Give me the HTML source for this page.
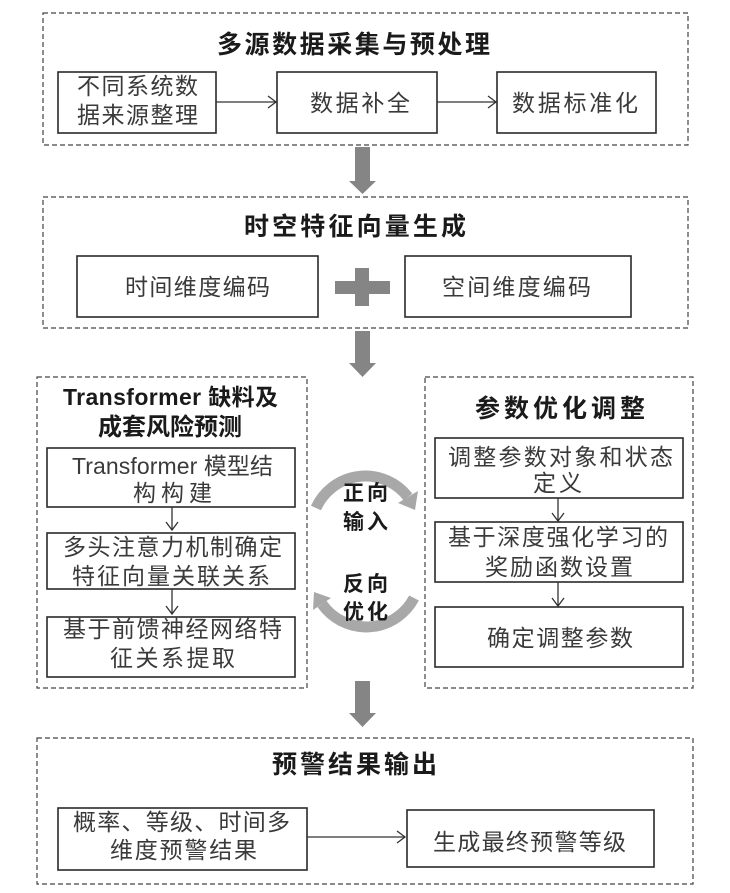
<!DOCTYPE html>
<html>
<head>
<meta charset="utf-8">
<style>
  html,body{margin:0;padding:0;background:#fff;}
  svg{display:block;}
  .t{font-family:"Liberation Sans","Noto Sans CJK SC",sans-serif;font-weight:bold;font-size:25px;fill:#1a1a1a;}
  .s{font-family:"Liberation Sans","Noto Sans CJK SC",sans-serif;font-weight:normal;font-size:23px;fill:#3a3a3a;}
  .m{font-family:"Liberation Sans","Noto Sans CJK SC",sans-serif;font-weight:bold;font-size:21px;fill:#1a1a1a;}
  .dash{fill:none;stroke:#444;stroke-width:1.2;stroke-dasharray:5 3;}
  .box{fill:#fff;stroke:#2a2a2a;stroke-width:1.6;}
  .ln{fill:none;stroke:#333;stroke-width:1.3;}
  .big{fill:#858585;}
  .arc{fill:none;stroke:#a8a8a8;stroke-width:11;}
  .arch{fill:#a8a8a8;}
</style>
</head>
<body>
<svg width="730" height="893" viewBox="0 0 730 893" xmlns="http://www.w3.org/2000/svg">
  <!-- Box 1 -->
  <rect class="dash" x="43" y="13" width="645" height="132"/>
  <text class="t" x="217" y="53" textLength="273" lengthAdjust="spacing">多源数据采集与预处理</text>

  <rect class="box" x="58" y="72" width="158" height="61"/>
  <text class="s" x="77" y="94" textLength="121" lengthAdjust="spacing">不同系统数</text>
  <text class="s" x="77" y="123" textLength="121" lengthAdjust="spacing">据来源整理</text>

  <line class="ln" x1="216" y1="102" x2="276" y2="102"/>
  <polyline class="ln" points="268,96 276,102 268,108"/>

  <rect class="box" x="277" y="72" width="160" height="61"/>
  <text class="s" x="310" y="111" textLength="100" lengthAdjust="spacing">数据补全</text>

  <line class="ln" x1="437" y1="102" x2="496" y2="102"/>
  <polyline class="ln" points="488,96 496,102 488,108"/>

  <rect class="box" x="497" y="72" width="159" height="61"/>
  <text class="s" x="512" y="111" textLength="126" lengthAdjust="spacing">数据标准化</text>

  <!-- Down arrow 1 -->
  <polygon class="big" points="355,147 370,147 370,181 376,181 362.5,194 349,181 355,181"/>

  <!-- Box 2 -->
  <rect class="dash" x="43" y="197" width="645" height="131"/>
  <text class="t" x="244" y="235" textLength="222" lengthAdjust="spacing">时空特征向量生成</text>

  <rect class="box" x="77" y="256" width="241" height="61"/>
  <text class="s" x="125" y="295" textLength="145" lengthAdjust="spacing">时间维度编码</text>

  <rect class="big" x="335" y="281" width="55" height="13"/>
  <rect class="big" x="355" y="268" width="14" height="38"/>

  <rect class="box" x="405" y="256" width="226" height="61"/>
  <text class="s" x="442" y="295" textLength="149" lengthAdjust="spacing">空间维度编码</text>

  <!-- Down arrow 2 -->
  <polygon class="big" points="355,331 370,331 370,363 376,363 362.5,377 349,363 355,363"/>

  <!-- Left box 3 -->
  <rect class="dash" x="37" y="377" width="270" height="311"/>
  <text class="t" x="63" y="405" textLength="215" lengthAdjust="spacing" style="font-size:23px">Transformer 缺料及</text>
  <text class="t" x="98" y="435" textLength="144" lengthAdjust="spacing" style="font-size:24px">成套风险预测</text>

  <rect class="box" x="47" y="448" width="248" height="59"/>
  <text class="s" x="72" y="474" textLength="201" lengthAdjust="spacing">Transformer 模型结</text>
  <text class="s" x="133" y="501" textLength="79" lengthAdjust="spacing">构构建</text>

  <line class="ln" x1="172" y1="507" x2="172" y2="530"/>
  <polyline class="ln" points="166,522 172,530 178,522"/>

  <rect class="box" x="47" y="533" width="248" height="56"/>
  <text class="s" x="63" y="555" textLength="219" lengthAdjust="spacing">多头注意力机制确定</text>
  <text class="s" x="72" y="584" textLength="198" lengthAdjust="spacing">特征向量关联关系</text>

  <line class="ln" x1="172" y1="589" x2="172" y2="614"/>
  <polyline class="ln" points="166,606 172,614 178,606"/>

  <rect class="box" x="47" y="617" width="248" height="60"/>
  <text class="s" x="63" y="637" textLength="219" lengthAdjust="spacing">基于前馈神经网络特</text>
  <text class="s" x="110" y="666" textLength="125" lengthAdjust="spacing">征关系提取</text>

  <!-- Middle cycle arrows -->
  <path class="arc" d="M 316 508 A 54 54 0 0 1 408 497"/>
  <polygon class="arch" points="418,491 398,503 415,510"/>
  <path class="arc" d="M 414 598 A 54 54 0 0 1 322 604"/>
  <polygon class="arch" points="331,598 313,610 314,592"/>

  <text class="m" x="343" y="500" textLength="45" lengthAdjust="spacing">正向</text>
  <text class="m" x="343" y="529" textLength="45" lengthAdjust="spacing">输入</text>
  <text class="m" x="343" y="591" textLength="45" lengthAdjust="spacing">反向</text>
  <text class="m" x="343" y="619" textLength="45" lengthAdjust="spacing">优化</text>

  <!-- Right box -->
  <rect class="dash" x="425" y="377" width="268" height="311"/>
  <text class="t" x="475" y="417" textLength="170" lengthAdjust="spacing">参数优化调整</text>

  <rect class="box" x="435" y="438" width="248" height="60"/>
  <text class="s" x="448" y="465" textLength="225" lengthAdjust="spacing">调整参数对象和状态</text>
  <text class="s" x="533" y="491" textLength="49" lengthAdjust="spacing">定义</text>

  <line class="ln" x1="558" y1="498" x2="558" y2="521"/>
  <polyline class="ln" points="552,513 558,521 564,513"/>

  <rect class="box" x="435" y="522" width="248" height="60"/>
  <text class="s" x="448" y="545" textLength="220" lengthAdjust="spacing">基于深度强化学习的</text>
  <text class="s" x="485" y="575" textLength="148" lengthAdjust="spacing">奖励函数设置</text>

  <line class="ln" x1="558" y1="582" x2="558" y2="606"/>
  <polyline class="ln" points="552,598 558,606 564,598"/>

  <rect class="box" x="435" y="607" width="248" height="60"/>
  <text class="s" x="487" y="646" textLength="146" lengthAdjust="spacing">确定调整参数</text>

  <!-- Down arrow 3 -->
  <polygon class="big" points="355,681 370,681 370,713 376,713 362.5,727 349,713 355,713"/>

  <!-- Box 4 -->
  <rect class="dash" x="37" y="738" width="656" height="146"/>
  <text class="t" x="272" y="773" textLength="165" lengthAdjust="spacing">预警结果输出</text>

  <rect class="box" x="58" y="808" width="249" height="62"/>
  <text class="s" x="73" y="830" textLength="217" lengthAdjust="spacing">概率、等级、时间多</text>
  <text class="s" x="110" y="858" textLength="147" lengthAdjust="spacing">维度预警结果</text>

  <line class="ln" x1="307" y1="837" x2="405" y2="837"/>
  <polyline class="ln" points="397,831 405,837 397,843"/>

  <rect class="box" x="407" y="810" width="247" height="57"/>
  <text class="s" x="433" y="850" textLength="193" lengthAdjust="spacing">生成最终预警等级</text>
</svg>
</body>
</html>
